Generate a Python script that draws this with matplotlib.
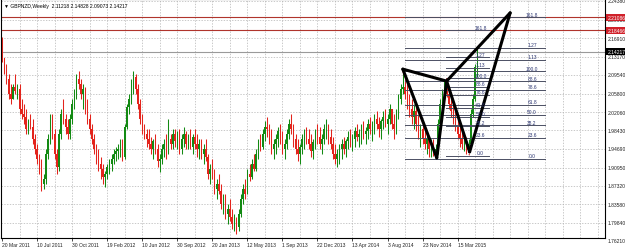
import matplotlib
matplotlib.use('Agg')
import matplotlib.pyplot as plt
from matplotlib.transforms import blended_transform_factory

plt.rcParams['font.family'] = ['Liberation Sans', 'DejaVu Sans']

title_text = '\u25bc GBPNZD,Weekly  2.11218 2.14828 2.09073 2.14217'

# weekly candles (open = previous close)
first_open = 2.160
closes = [
    2.130, 2.103, 2.087, 2.057, 2.047, 2.071, 2.063, 2.067, 2.027, 2.017,
    2.011, 1.987, 1.997, 1.991, 1.967, 1.947, 1.927, 1.911, 1.877, 1.887,
    1.937, 1.967, 2.007, 1.977, 1.937, 1.911, 1.977, 2.017, 2.007, 1.991,
    1.977, 2.007, 2.037, 2.057, 2.087, 2.077, 2.057, 2.067, 2.027, 2.007,
    1.987, 1.967, 1.947, 1.931, 1.917, 1.907, 1.891, 1.897, 1.911, 1.917,
    1.927, 1.937, 1.943, 1.947, 1.957, 1.931, 1.991, 2.031, 2.047, 2.077,
    2.091, 2.067, 2.037, 2.007, 1.987, 1.977, 1.967, 1.957, 1.947, 1.963,
    1.947, 1.923, 1.927, 1.947, 1.957, 1.937, 1.967, 1.957, 1.977, 1.963,
    1.971, 1.947, 1.967, 1.977, 1.957, 1.967, 1.951, 1.971, 1.957, 1.947,
    1.957, 1.937, 1.947, 1.931, 1.897, 1.907, 1.891, 1.867, 1.877, 1.863,
    1.836, 1.846, 1.816, 1.826, 1.810, 1.796, 1.806, 1.790, 1.816, 1.846,
    1.867, 1.856, 1.897, 1.891, 1.917, 1.907, 1.937, 1.957, 1.951, 1.977,
    1.991, 1.987, 1.967, 1.947, 1.957, 1.967, 1.983, 1.967, 1.947, 1.957,
    1.977, 1.997, 1.987, 1.967, 1.947, 1.937, 1.951, 1.967, 1.977, 1.967,
    1.957, 1.943, 1.961, 1.977, 1.971, 1.957, 1.967, 1.987, 1.991, 1.971,
    1.957, 1.937, 1.927, 1.937, 1.947, 1.957, 1.947, 1.963, 1.971, 1.957,
    1.967, 1.983, 1.971, 1.977, 1.987, 1.977, 1.983, 1.997, 1.987, 1.991,
    2.007, 1.997, 1.987, 2.003, 2.011, 1.997, 2.007, 2.027, 1.997, 1.987,
    2.017, 2.047, 2.067, 2.071, 2.057, 2.037, 2.027, 2.011, 2.023, 1.997,
    1.977, 1.987, 1.967, 1.957, 1.967, 1.947, 1.951, 1.943, 1.947, 1.997,
    2.037, 2.057, 2.067, 2.057, 2.037, 2.023, 2.011, 1.991, 1.977, 1.967,
    1.957, 1.967, 1.951, 1.957, 2.017, 2.047, 2.112, 2.142]
highs = [
    2.172, 2.127, 2.117, 2.097, 2.077, 2.077, 2.097, 2.077, 2.077, 2.047,
    2.037, 2.027, 2.007, 2.017, 2.007, 1.977, 1.957, 1.937, 1.927, 1.897,
    1.947, 1.977, 2.017, 2.017, 1.987, 1.947, 1.987, 2.027, 2.047, 2.017,
    2.007, 2.017, 2.047, 2.067, 2.097, 2.103, 2.087, 2.077, 2.071, 2.047,
    2.017, 1.997, 1.977, 1.957, 1.947, 1.931, 1.917, 1.903, 1.917, 1.927,
    1.937, 1.947, 1.951, 1.957, 1.967, 1.967, 1.997, 2.037, 2.057, 2.087,
    2.103, 2.097, 2.077, 2.047, 2.017, 1.997, 1.987, 1.987, 1.971, 1.967,
    1.977, 1.957, 1.937, 1.957, 1.967, 1.977, 2.007, 1.977, 1.987, 1.987,
    1.983, 1.987, 1.977, 1.991, 1.983, 1.977, 1.987, 1.977, 1.987, 1.977,
    1.967, 1.967, 1.957, 1.967, 1.937, 1.917, 1.927, 1.907, 1.887, 1.897,
    1.877, 1.857, 1.857, 1.836, 1.846, 1.826, 1.816, 1.810, 1.826, 1.857,
    1.877, 1.887, 1.907, 1.917, 1.927, 1.937, 1.947, 1.967, 1.977, 1.987,
    2.003, 2.011, 1.997, 1.987, 1.967, 1.977, 1.991, 1.997, 1.983, 1.967,
    1.987, 2.007, 2.017, 1.997, 1.977, 1.967, 1.957, 1.977, 1.987, 1.991,
    1.987, 1.977, 1.967, 1.987, 1.997, 1.991, 1.977, 1.997, 2.007, 1.997,
    1.987, 1.971, 1.957, 1.947, 1.957, 1.967, 1.971, 1.967, 1.983, 1.987,
    1.977, 1.991, 1.997, 1.987, 1.997, 2.003, 1.991, 2.007, 2.011, 2.003,
    2.017, 2.023, 2.011, 2.007, 2.023, 2.027, 2.017, 2.037, 2.027, 2.017,
    2.027, 2.057, 2.077, 2.107, 2.087, 2.077, 2.057, 2.047, 2.037, 2.031,
    2.017, 1.997, 2.003, 1.987, 1.977, 1.971, 1.967, 1.967, 1.957, 2.007,
    2.047, 2.067, 2.083, 2.087, 2.071, 2.051, 2.037, 2.023, 2.007, 1.991,
    1.983, 1.977, 1.971, 1.967, 2.027, 2.057, 2.118, 2.148]
lows = [
    2.122, 2.097, 2.077, 2.047, 2.037, 2.047, 2.057, 2.047, 2.017, 2.007,
    1.997, 1.977, 1.977, 1.987, 1.957, 1.937, 1.917, 1.897, 1.863, 1.867,
    1.877, 1.927, 1.957, 1.967, 1.927, 1.897, 1.903, 1.967, 1.997, 1.977,
    1.967, 1.967, 1.997, 2.027, 2.047, 2.067, 2.047, 2.027, 2.017, 1.997,
    1.977, 1.957, 1.937, 1.917, 1.903, 1.887, 1.877, 1.871, 1.887, 1.897,
    1.903, 1.917, 1.923, 1.927, 1.931, 1.923, 1.927, 1.987, 2.017, 2.037,
    2.057, 2.057, 2.027, 1.997, 1.977, 1.967, 1.951, 1.947, 1.937, 1.927,
    1.937, 1.911, 1.901, 1.917, 1.931, 1.927, 1.957, 1.947, 1.947, 1.951,
    1.947, 1.937, 1.937, 1.951, 1.947, 1.947, 1.947, 1.937, 1.947, 1.931,
    1.927, 1.927, 1.917, 1.923, 1.887, 1.877, 1.887, 1.857, 1.846, 1.857,
    1.826, 1.816, 1.806, 1.796, 1.802, 1.786, 1.782, 1.776, 1.782, 1.810,
    1.836, 1.846, 1.857, 1.883, 1.887, 1.903, 1.903, 1.927, 1.943, 1.947,
    1.963, 1.971, 1.957, 1.937, 1.927, 1.937, 1.951, 1.957, 1.937, 1.927,
    1.947, 1.967, 1.977, 1.951, 1.937, 1.923, 1.917, 1.937, 1.947, 1.957,
    1.947, 1.931, 1.927, 1.947, 1.957, 1.947, 1.937, 1.957, 1.967, 1.957,
    1.947, 1.927, 1.917, 1.911, 1.917, 1.927, 1.937, 1.931, 1.947, 1.951,
    1.943, 1.951, 1.963, 1.951, 1.957, 1.967, 1.957, 1.967, 1.977, 1.963,
    1.977, 1.987, 1.971, 1.967, 1.987, 1.991, 1.977, 1.997, 1.987, 1.967,
    1.977, 2.007, 2.037, 2.057, 2.047, 2.027, 2.011, 1.997, 1.987, 1.983,
    1.967, 1.951, 1.957, 1.947, 1.937, 1.931, 1.931, 1.933, 1.927, 1.937,
    1.991, 2.027, 2.047, 2.051, 2.027, 2.011, 1.997, 1.983, 1.967, 1.951,
    1.947, 1.943, 1.937, 1.941, 1.951, 2.011, 2.043, 2.091]

date_labels = ['20 Mar 2011', '10 Jul 2011', '30 Oct 2011', '19 Feb 2012',
               '10 Jun 2012', '30 Sep 2012', '20 Jan 2013', '12 May 2013',
               '1 Sep 2013', '22 Dec 2013', '13 Apr 2014', '3 Aug 2014',
               '23 Nov 2014', '15 Mar 2015']
date_bars = [0, 16, 32, 48, 64, 80, 96, 112, 128, 144, 160, 176, 192, 208]

price_ticks = [2.2438, 2.2065, 2.1691, 2.1317, 2.0954, 2.0580, 2.0206,
               1.9843, 1.9469, 1.9095, 1.8732, 1.8358, 1.7984, 1.7621]
price_labels = ['2.24380', '2.20650', '2.16910', '2.13170', '2.09540',
                '2.05800', '2.02060', '1.98430', '1.94690', '1.90950',
                '1.87320', '1.83580', '1.79840', '1.76210']

last_price = 2.14217
red_lines = [2.21086, 2.18466]

# X A B C D points of the pattern (bar, price)
pattern_bars = [183, 198.5, 203, 213.5, 232]
pattern_prices = [2.107, 1.929, 2.083, 1.941, 2.220]

fib_levels = [0, 23.6, 38.2, 50.0, 61.8, 78.6, 88.6, 100.0, 113, 127, 161.8]
fib_texts = ['0.0', '23.6', '38.2', '50.0', '61.8', '78.6', '88.6', '100.0',
             '1.13', '1.27', '161.8']
# (low, high, first bar, last bar, label bar, anchor bars)
fib_a = (1.927, 2.1024, 184, 248, 242, 183, 198.5)
fib_b = (1.933, 2.0885, 202.5, 222.5, 218.5, 203, 213.5)

bull_col = '#138a13'
bear_col = '#e3241c'

fig = plt.figure(figsize=(6.25, 2.51), dpi=100)
ax = fig.add_axes([1 / 625, 12 / 251, 604 / 625, 239 / 251])
ax.set_xlim(-0.46, 275.3)
ax.set_ylim(1.7681, 2.2478)

# grid
for p in price_ticks:
    ax.axhline(p, color='#b4b4b4', lw=0.5, ls=(0, (2, 2)), zorder=0)
for b in range(8, 276, 8):
    ax.axvline(b, color='#b4b4b4', lw=0.5, ls=(0, (2, 2)), zorder=0)

# candles
opens = [first_open] + closes[:-1]
for i in range(len(closes)):
    o, c = opens[i], closes[i]
    col = bull_col if c >= o else bear_col
    hi = max(highs[i], o, c)
    lo = min(lows[i], o, c)
    ax.vlines(i, lo, hi, color=col, lw=0.75, zorder=2)
    ax.bar(i, max(abs(c - o), 0.0015), bottom=min(o, c), width=0.6,
           color=col, lw=0, zorder=2)

# horizontal lines
for p in red_lines:
    ax.axhline(p, color='#b0342c', lw=0.8, zorder=1)
ax.axhline(last_price, color='#9a9a9a', lw=0.8, zorder=1)

# fibonacci retracements
for low, high, b0, b1, lb, a0, a1 in [fib_a, fib_b]:
    rng = high - low
    for lvl, txt in zip(fib_levels, fib_texts):
        p = low + lvl / 100 * rng
        ax.plot([b0, b1], [p, p], color='#4b4f63', lw=0.7, zorder=3)
        ax.annotate(txt, (lb, p), xytext=(0, 0.6), textcoords='offset points',
                    ha='center', va='bottom', fontsize=3.5, color='#2a3470',
                    zorder=5)
    ax.plot([a0, a1], [high, low], color='#d11', lw=0.7, ls=(0, (1.5, 1.5)),
            zorder=3)

# butterfly pattern: XAB and BCD triangles
xs, ys = pattern_bars, pattern_prices
for i, j in [(0, 1), (1, 2), (2, 0), (2, 3), (3, 4), (4, 2)]:
    ax.plot([xs[i], xs[j]], [ys[i], ys[j]], color='black', lw=2.2,
            solid_capstyle='round', zorder=4)

# axes styling
for s in ax.spines.values():
    s.set_color('black')
    s.set_linewidth(0.8)
ax.set_yticks([])
ax.set_xticks(date_bars, labels=date_labels, ha='left', fontsize=3.6,
              color='#222222')
ax.tick_params(axis='x', length=2, width=0.5, pad=1)

tr = blended_transform_factory(ax.transAxes, ax.transData)
for p, lab in zip(price_ticks, price_labels):
    ax.text(1.004, p, lab, transform=tr, ha='left', va='center',
            fontsize=3.6, color='#222222', clip_on=False, zorder=5)
for p in red_lines:
    ax.text(1.004, p, '%.5f' % p, transform=tr, ha='left', va='center',
            fontsize=3.6, color='white', clip_on=False, zorder=10,
            bbox=dict(boxstyle='square,pad=0.2', fc='#d0212a', ec='none'))
ax.text(1.004, last_price, '%.5f' % last_price, transform=tr, ha='left',
        va='center', fontsize=3.6, color='white', clip_on=False, zorder=10,
        bbox=dict(boxstyle='square,pad=0.2', fc='black', ec='none'))

ax.text(0.005, 0.985, title_text, transform=ax.transAxes, ha='left',
        va='top', fontsize=3.6, color='black', zorder=6)

fig.savefig('out.png', dpi=100)
